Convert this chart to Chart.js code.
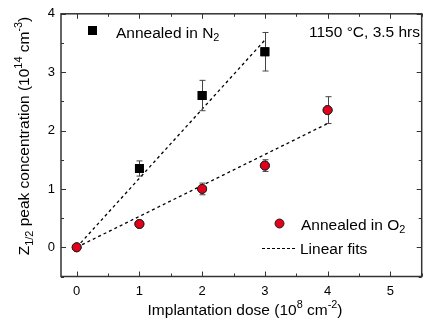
<!DOCTYPE html>
<html>
<head>
<meta charset="utf-8">
<script src="https://cdn.jsdelivr.net/npm/chart.js@4"></script>
<style>
html, body { margin: 0; padding: 0; background: #fff; }
#wrap { width: 428px; height: 328px; position: relative; }
</style>
</head>
<body>
<div id="wrap"><canvas id="doseChart" width="428" height="328"></canvas></div>
<script>
// dose values (10^8 cm^-2)
const n2Dose = [1, 2, 3];
const n2Conc = [1.35, 2.6, 3.35];
const n2Err = [0.13, 0.26, 0.33];

const o2Dose = [0, 1, 2, 3, 4];
const o2Conc = [0, 0.4, 1.0, 1.4, 2.35];
const o2Err = [0, 0.03, 0.1, 0.1, 0.23];

// linear fit end points
const n2FitX = [0, 3];
const n2FitY = [0, 3.55];
const o2FitX = [0, 4];
const o2FitY = [0, 2.12];

const xTickLabels = [0, 1, 2, 3, 4, 5];
const yTickLabels = [0, 1, 2, 3, 4];

const FONT = '"Liberation Sans", Arial, sans-serif';
const AXIS = '#333';
const RED = '#e2001a';
const TXT = 15.5;

function pts(xs, ys) {
  return xs.map((x, i) => ({ x: x, y: ys[i] }));
}

// text with sub/superscripts, parts = [[text, kind]] kind: 0 normal, 1 sup, -1 sub
function richWidth(ctx, parts, size) {
  let w = 0;
  for (const [t, k] of parts) {
    ctx.font = (k ? size * 0.7 : size) + 'px ' + FONT;
    w += ctx.measureText(t).width;
  }
  return w;
}
function drawRich(ctx, parts, x, y, size) {
  for (const [t, k] of parts) {
    const s = k ? size * 0.7 : size;
    ctx.font = s + 'px ' + FONT;
    let dy = 0;
    if (k === 1) dy = -size * 0.42;
    if (k === -1) dy = size * 0.25;
    ctx.fillText(t, x, y + dy);
    x += ctx.measureText(t).width;
  }
}

const xTitle = [['Implantation dose (10', 0], ['8', 1], [' cm', 0], ['-2', 1], [')', 0]];
const yTitle = [['Z', 0], ['1/2', -1], [' peak concentration (10', 0], ['14', 1], [' cm', 0], ['-3', 1], [')', 0]];

// error bars, frame, inward ticks, titles and legends
const decoPlugin = {
  id: 'deco',
  afterDatasetsDraw(chart) {
    const ctx = chart.ctx;
    const xs = chart.scales.x, ys = chart.scales.y;
    ctx.save();
    ctx.strokeStyle = '#444';
    ctx.lineWidth = 1;
    const errs = [[n2Dose, n2Conc, n2Err], [o2Dose, o2Conc, o2Err]];
    for (const [dx, dy, de] of errs) {
      dx.forEach((v, i) => {
        if (!de[i]) return;
        const px = Math.round(xs.getPixelForValue(v)) + 0.5;
        const top = ys.getPixelForValue(dy[i] + de[i]);
        const bot = ys.getPixelForValue(dy[i] - de[i]);
        ctx.beginPath();
        ctx.moveTo(px, top); ctx.lineTo(px, bot);
        ctx.moveTo(px - 3, top); ctx.lineTo(px + 3, top);
        ctx.moveTo(px - 3, bot); ctx.lineTo(px + 3, bot);
        ctx.stroke();
      });
    }
    ctx.restore();
    // redraw markers on top of the bars
    [0, 1].forEach(i => chart.getDatasetMeta(i).data.forEach(p => p.draw(ctx)));
  },
  afterDraw(chart) {
    const ctx = chart.ctx;
    const a = chart.chartArea;
    const xs = chart.scales.x, ys = chart.scales.y;
    ctx.save();
    ctx.strokeStyle = AXIS;
    ctx.lineWidth = 1.5;
    ctx.strokeRect(a.left, a.top, a.right - a.left, a.bottom - a.top);
    ctx.lineWidth = 1;
    ctx.beginPath();
    for (let v = 0; v <= 5.5; v += 0.5) {
      const px = Math.round(xs.getPixelForValue(v)) + 0.5;
      const len = Number.isInteger(v) ? 5 : 3;
      ctx.moveTo(px, a.bottom); ctx.lineTo(px, a.bottom - len);
      ctx.moveTo(px, a.top); ctx.lineTo(px, a.top + len);
    }
    for (let v = -0.5; v <= 4; v += 0.5) {
      const py = Math.round(ys.getPixelForValue(v)) + 0.5;
      const len = Number.isInteger(v) ? 5 : 3;
      ctx.moveTo(a.left, py); ctx.lineTo(a.left + len, py);
      ctx.moveTo(a.right, py); ctx.lineTo(a.right - len, py);
    }
    ctx.stroke();

    ctx.fillStyle = '#000';
    ctx.textBaseline = 'alphabetic';
    // x title
    const xw = richWidth(ctx, xTitle, TXT);
    drawRich(ctx, xTitle, 245 - xw / 2, 315, TXT);
    // y title
    const yw = richWidth(ctx, yTitle, TXT);
    ctx.save();
    ctx.translate(29, 136);
    ctx.rotate(-Math.PI / 2);
    drawRich(ctx, yTitle, -yw / 2, 0, TXT);
    ctx.restore();

    // legend: N2
    ctx.fillStyle = '#000';
    ctx.fillRect(88, 26, 9, 9);
    drawRich(ctx, [['Annealed in N', 0], ['2', -1]], 116, 37.5, TXT);
    // annotation
    drawRich(ctx, [['1150 °C, 3.5 hrs', 0]], 309, 37, TXT);
    // legend: O2
    ctx.beginPath();
    ctx.arc(279.5, 223.5, 4.5, 0, Math.PI * 2);
    ctx.fillStyle = RED;
    ctx.fill();
    ctx.strokeStyle = '#222';
    ctx.stroke();
    ctx.fillStyle = '#000';
    drawRich(ctx, [['Annealed in O', 0], ['2', -1]], 301, 229.5, TXT);
    // legend: fits
    ctx.setLineDash([3, 2]);
    ctx.strokeStyle = '#000';
    ctx.lineWidth = 1.2;
    ctx.beginPath();
    ctx.moveTo(262, 248.5); ctx.lineTo(297, 248.5);
    ctx.stroke();
    ctx.setLineDash([]);
    drawRich(ctx, [['Linear fits', 0]], 300, 254, TXT);
    ctx.restore();
  }
};

const ctx = document.getElementById('doseChart').getContext('2d');
const doseChart = new Chart(ctx, {
  type: 'scatter',
  data: {
    datasets: [
      {
        label: 'Annealed in N2',
        data: pts(n2Dose, n2Conc),
        pointStyle: 'rect',
        pointRadius: 6.3,
        backgroundColor: '#000',
        borderColor: '#000',
        borderWidth: 0,
        order: 1
      },
      {
        label: 'Annealed in O2',
        data: pts(o2Dose, o2Conc),
        pointStyle: 'circle',
        pointRadius: 4.5,
        backgroundColor: RED,
        borderColor: '#222',
        borderWidth: 1,
        order: 1
      },
      {
        label: 'Linear fit N2',
        type: 'line',
        data: pts(n2FitX, n2FitY),
        borderColor: '#000',
        borderWidth: 1.3,
        borderDash: [3, 3],
        pointRadius: 0,
        fill: false,
        order: 2
      },
      {
        label: 'Linear fit O2',
        type: 'line',
        data: pts(o2FitX, o2FitY),
        borderColor: '#000',
        borderWidth: 1.3,
        borderDash: [3, 3],
        pointRadius: 0,
        fill: false,
        order: 2
      }
    ]
  },
  options: {
    responsive: false,
    animation: false,
    layout: { padding: { left: 0, right: 4, top: 10, bottom: 0 } },
    plugins: { legend: { display: false }, tooltip: { enabled: false } },
    scales: {
      x: {
        type: 'linear',
        min: -0.25,
        max: 5.5,
        afterBuildTicks: s => { s.ticks = xTickLabels.map(v => ({ value: v })); },
        afterFit: s => { s.height = 51.5; },
        grid: { display: false, drawTicks: false },
        border: { display: false },
        ticks: { color: '#000', padding: 7, font: { family: FONT, size: 13 } }
      },
      y: {
        type: 'linear',
        min: -0.5,
        max: 4,
        afterBuildTicks: s => { s.ticks = yTickLabels.map(v => ({ value: v })); },
        afterFit: s => { s.width = 61; },
        grid: { display: false, drawTicks: false },
        border: { display: false },
        ticks: { color: '#000', padding: 6, font: { family: FONT, size: 13 } }
      }
    }
  },
  plugins: [decoPlugin]
});
</script>
</body>
</html>
